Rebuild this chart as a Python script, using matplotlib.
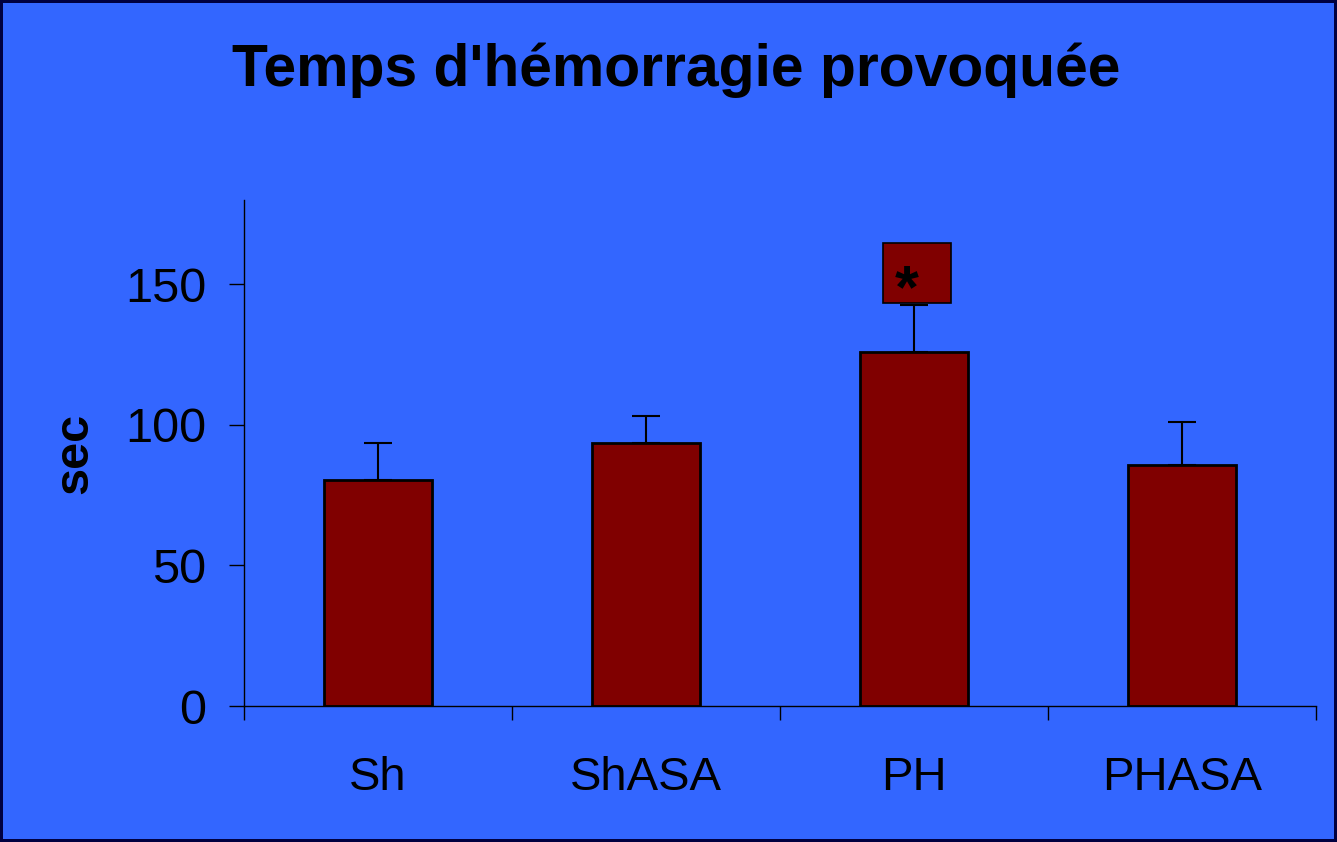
import numpy as np
import matplotlib
matplotlib.use("Agg")
import matplotlib.pyplot as plt
from matplotlib.patches import Rectangle

categories = ["Sh", "ShASA", "PH", "PHASA"]
means = [80.5, 93.7, 126.1, 85.9]
errors = [13.2, 9.6, 16.4, 15.3]
title = "Temps d'hémorragie provoquée"
ylabel = "sec"
star_index = 2

bg = "#3366ff"
bar_color = "#800000"

plt.rcParams["font.family"] = ["Liberation Sans", "DejaVu Sans"]

fig = plt.figure(figsize=(13.37, 8.42), dpi=100, facecolor=bg,
                 edgecolor="#000040", linewidth=3)
ax = fig.add_axes([0.1825, 0.1615, 0.8018, 0.601])
ax.set_facecolor(bg)

x = np.arange(len(categories))
ax.bar(x, means, width=0.4, color=bar_color, edgecolor="black", linewidth=2, zorder=2)
ax.errorbar(x, means, yerr=[np.zeros(len(errors)), errors], fmt="none",
            ecolor="black", elinewidth=1.5, capsize=10, capthick=1.5, zorder=1)

# significance box above PH
box = Rectangle((star_index - 0.116, 143.2), 0.254, 21.4, facecolor=bar_color,
                edgecolor="black", linewidth=1.2, zorder=3)
ax.add_patch(box)
ax.text(star_index - 0.026, 147.5, "*", ha="center", va="center",
        fontsize=44, fontweight="bold", color="black", zorder=4)

ax.set_xlim(-0.5, len(categories) - 0.5)
ax.set_ylim(0, 180)
ax.set_yticks([0, 50, 100, 150])
ax.set_xticks(np.arange(-0.5, len(categories), 1.0))
ax.set_xticklabels([])
ax.set_xticks(x, minor=True)
ax.set_xticklabels(categories, minor=True)
ax.tick_params(axis="x", which="major", direction="out", length=10, width=1)
ax.tick_params(axis="x", which="minor", length=0, pad=36, labelsize=34)
ax.tick_params(axis="y", direction="out", length=11, width=1, labelsize=35, pad=16)

for side in ["top", "right"]:
    ax.spines[side].set_visible(False)
ax.spines["left"].set_linewidth(1)
ax.spines["bottom"].set_linewidth(1)

ax.set_ylabel(ylabel, fontsize=35, fontweight="bold", labelpad=20)
fig.text(0.506, 0.917, title, ha="center", va="center",
         fontsize=42.4, fontweight="bold", color="black")

fig.savefig("out.png", dpi=100, facecolor=bg, edgecolor="#000040")
